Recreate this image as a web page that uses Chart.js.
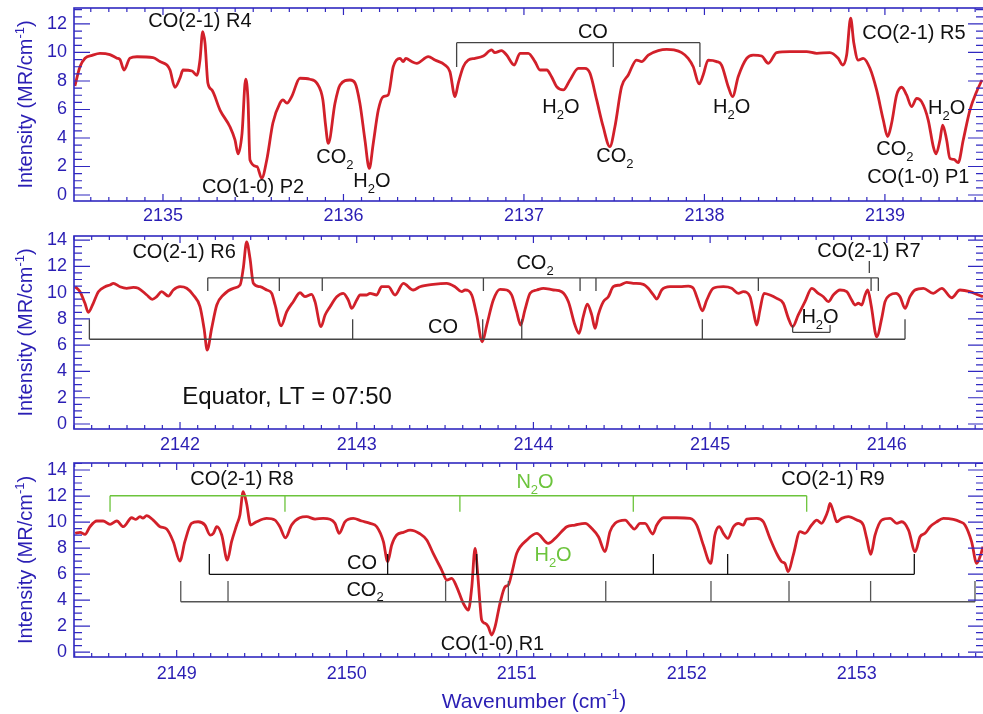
<!DOCTYPE html>
<html>
<head>
<meta charset="utf-8">
<script src="https://cdn.jsdelivr.net/npm/chart.js@4.4.1/dist/chart.umd.min.js"></script>
<style>
  html, body { margin: 0; padding: 0; background: #fff; width: 983px; height: 714px; overflow: hidden; }
  canvas { position: absolute; left: 0; }
</style>
</head>
<body>
<canvas id="panel1" width="990" height="228" style="top:0px"></canvas>
<canvas id="panel2" width="990" height="227" style="top:228px"></canvas>
<canvas id="panel3" width="990" height="259" style="top:455px"></canvas>
<script>
// ---------------- spectrum, 2134.5 - 2139.5 cm-1 ----------------
const wavenumber1 = [2134.512, 2134.540, 2134.568, 2134.607, 2134.651, 2134.706, 2134.745, 2134.762, 2134.784, 2134.817,
  2134.856, 2134.945, 2134.983, 2135.022, 2135.039, 2135.066, 2135.094, 2135.111, 2135.161, 2135.188,
  2135.205, 2135.220, 2135.233, 2135.249, 2135.271, 2135.316, 2135.371, 2135.399, 2135.416, 2135.438,
  2135.458, 2135.471, 2135.482, 2135.521, 2135.547, 2135.575, 2135.609, 2135.648, 2135.665, 2135.687,
  2135.713, 2135.759, 2135.814, 2135.853, 2135.886, 2135.900, 2135.916, 2135.953, 2135.981, 2136.036,
  2136.064, 2136.091, 2136.119, 2136.143, 2136.165, 2136.193, 2136.220, 2136.248, 2136.276, 2136.313,
  2136.331, 2136.346, 2136.378, 2136.406, 2136.470, 2136.507, 2136.562, 2136.590, 2136.618, 2136.636,
  2136.664, 2136.691, 2136.729, 2136.775, 2136.821, 2136.839, 2136.876, 2136.904, 2136.946, 2136.978,
  2137.024, 2137.061, 2137.089, 2137.126, 2137.153, 2137.181, 2137.218, 2137.255, 2137.301, 2137.338,
  2137.366, 2137.403, 2137.439, 2137.476, 2137.504, 2137.541, 2137.578, 2137.624, 2137.652, 2137.689,
  2137.744, 2137.791, 2137.831, 2137.874, 2137.910, 2137.938, 2137.971, 2137.993, 2138.021, 2138.068,
  2138.095, 2138.132, 2138.156, 2138.187, 2138.234, 2138.270, 2138.317, 2138.354, 2138.400, 2138.474,
  2138.566, 2138.622, 2138.695, 2138.741, 2138.766, 2138.788, 2138.810, 2138.828, 2138.852, 2138.880,
  2138.917, 2138.954, 2138.991, 2139.015, 2139.037, 2139.065, 2139.093, 2139.120, 2139.148, 2139.176,
  2139.203, 2139.240, 2139.268, 2139.283, 2139.305, 2139.320, 2139.342, 2139.360, 2139.382, 2139.406,
  2139.434, 2139.471, 2139.508, 2139.538];
const intensity1 = [7.65, 9.0, 9.6, 9.8, 9.94, 9.85, 9.6, 9.5, 8.77, 9.6,
  9.7, 9.64, 9.36, 9.12, 8.77, 7.56, 8.2, 8.77, 8.7, 8.4,
  9.47, 11.46, 10.64, 7.84, 7.37, 5.96, 4.79, 3.86, 2.88, 4.33,
  8.12, 6.67, 2.46, 1.99, 1.17, 2.46, 5.05, 6.44, 6.67, 6.44,
  6.9, 8.19, 8.12, 7.84, 6.67, 5.0, 3.62, 6.44, 7.72, 8.07,
  7.86, 6.44, 3.86, 1.87, 3.62, 5.96, 6.9, 7.02, 9.0, 9.59,
  9.36, 9.59, 9.36, 9.24, 9.71, 9.47, 9.12, 8.65, 6.9, 7.84,
  9.0, 9.47, 9.59, 9.75, 10.18, 9.99, 10.13, 9.82, 9.12, 9.94,
  9.94, 9.36, 8.77, 8.77, 8.3, 7.6, 7.37, 8.07, 8.89, 8.89,
  8.54, 6.67, 4.79, 3.39, 4.79, 7.6, 8.42, 9.47, 9.36, 9.82,
  10.13, 10.22, 10.18, 9.99, 9.59, 9.0, 7.79, 8.42, 9.47, 9.36,
  9.12, 7.6, 6.9, 8.3, 9.59, 9.82, 9.75, 9.24, 9.99, 10.06,
  10.06, 9.94, 9.99, 9.59, 9.12, 9.82, 12.4, 10.64, 9.47, 9.59,
  8.89, 7.37, 5.26, 4.09, 5.03, 7.02, 7.56, 7.02, 6.2, 6.78,
  6.55, 5.26, 3.39, 2.88, 3.86, 4.91, 3.86, 2.57, 2.5, 2.27,
  3.86, 5.96, 7.25, 8.07];

// ---------------- spectrum, 2141.4 - 2146.5 cm-1 ----------------
const wavenumber2 = [2141.406, 2141.434, 2141.462, 2141.481, 2141.509, 2141.538, 2141.576, 2141.604, 2141.623, 2141.660,
  2141.698, 2141.736, 2141.764, 2141.812, 2141.843, 2141.868, 2141.896, 2141.934, 2141.962, 2142.000,
  2142.038, 2142.075, 2142.113, 2142.136, 2142.154, 2142.179, 2142.208, 2142.245, 2142.302, 2142.340,
  2142.358, 2142.377, 2142.396, 2142.415, 2142.453, 2142.491, 2142.519, 2142.538, 2142.572, 2142.604,
  2142.641, 2142.679, 2142.707, 2142.745, 2142.764, 2142.798, 2142.821, 2142.849, 2142.887, 2142.924,
  2142.952, 2142.972, 2143.000, 2143.019, 2143.057, 2143.075, 2143.113, 2143.141, 2143.179, 2143.217,
  2143.264, 2143.320, 2143.358, 2143.433, 2143.509, 2143.556, 2143.594, 2143.613, 2143.651, 2143.679,
  2143.711, 2143.736, 2143.773, 2143.811, 2143.849, 2143.877, 2143.905, 2143.928, 2143.952, 2143.981,
  2144.019, 2144.056, 2144.113, 2144.160, 2144.198, 2144.235, 2144.258, 2144.282, 2144.305, 2144.330,
  2144.349, 2144.367, 2144.396, 2144.424, 2144.452, 2144.490, 2144.528, 2144.565, 2144.622, 2144.650,
  2144.679, 2144.698, 2144.726, 2144.773, 2144.830, 2144.877, 2144.905, 2144.928, 2144.956, 2144.981,
  2145.018, 2145.075, 2145.122, 2145.160, 2145.188, 2145.226, 2145.245, 2145.264, 2145.282, 2145.305,
  2145.339, 2145.377, 2145.414, 2145.443, 2145.467, 2145.499, 2145.537, 2145.575, 2145.612, 2145.641,
  2145.669, 2145.697, 2145.735, 2145.773, 2145.801, 2145.820, 2145.839, 2145.858, 2145.877, 2145.892,
  2145.911, 2145.943, 2145.971, 2145.990, 2146.018, 2146.052, 2146.075, 2146.103, 2146.131, 2146.160,
  2146.207, 2146.263, 2146.311, 2146.367, 2146.414, 2146.471, 2146.518, 2146.544];
const intensity2 = [10.45, 10.07, 9.19, 8.5, 9.19, 10.07, 10.45, 10.58, 10.71, 10.45,
  10.33, 10.4, 10.33, 9.82, 9.49, 9.69, 10.07, 9.74, 10.2, 10.45,
  10.33, 9.82, 8.93, 7.28, 5.63, 7.28, 9.06, 9.82, 10.33, 10.58,
  11.85, 13.87, 12.61, 10.71, 10.45, 10.2, 9.95, 9.06, 7.48, 8.55,
  9.31, 9.99, 9.69, 9.87, 9.31, 7.41, 8.3, 8.93, 9.69, 9.95,
  9.44, 8.8, 9.44, 9.82, 9.82, 9.95, 9.82, 10.45, 10.45, 9.82,
  10.71, 10.2, 10.45, 10.63, 10.71, 10.45, 10.07, 10.2, 9.82, 8.3,
  6.26, 7.53, 9.44, 10.25, 10.2, 9.82, 8.55, 7.53, 8.68, 9.95,
  10.2, 10.33, 10.2, 10.07, 9.31, 7.53, 6.9, 8.17, 9.13, 8.3,
  7.28, 8.3, 9.31, 9.69, 10.45, 10.58, 10.78, 10.71, 10.63, 10.33,
  9.82, 9.51, 10.2, 10.45, 10.45, 10.5, 10.33, 9.56, 8.62, 9.44,
  10.33, 10.45, 10.33, 9.95, 10.07, 9.69, 8.55, 7.53, 8.68, 9.95,
  9.82, 9.56, 9.19, 8.04, 7.41, 8.3, 9.31, 10.33, 9.95, 9.69,
  9.31, 9.82, 10.2, 10.07, 9.44, 9.06, 9.19, 9.06, 9.82, 10.2,
  9.06, 6.64, 8.04, 9.31, 9.82, 9.95, 9.69, 8.8, 9.69, 10.2,
  10.33, 9.95, 10.33, 9.61, 10.2, 10.07, 9.82, 9.69];

// ---------------- spectrum, 2148.4 - 2153.7 cm-1 ----------------
const wavenumber3 = [2148.403, 2148.432, 2148.461, 2148.490, 2148.530, 2148.567, 2148.608, 2148.648, 2148.686, 2148.735,
  2148.760, 2148.784, 2148.801, 2148.823, 2148.862, 2148.902, 2148.941, 2148.980, 2149.019, 2149.048,
  2149.087, 2149.126, 2149.166, 2149.197, 2149.216, 2149.236, 2149.265, 2149.298, 2149.323, 2149.353,
  2149.372, 2149.391, 2149.411, 2149.435, 2149.470, 2149.529, 2149.578, 2149.607, 2149.640, 2149.676,
  2149.724, 2149.764, 2149.814, 2149.862, 2149.902, 2149.931, 2149.956, 2149.990, 2150.039, 2150.088,
  2150.138, 2150.177, 2150.216, 2150.241, 2150.265, 2150.294, 2150.334, 2150.373, 2150.431, 2150.471,
  2150.509, 2150.559, 2150.589, 2150.618, 2150.647, 2150.686, 2150.716, 2150.736, 2150.755, 2150.769,
  2150.784, 2150.794, 2150.814, 2150.833, 2150.853, 2150.873, 2150.902, 2150.932, 2150.951, 2150.971,
  2151.000, 2151.060, 2151.118, 2151.186, 2151.236, 2151.295, 2151.343, 2151.403, 2151.442, 2151.481,
  2151.520, 2151.549, 2151.579, 2151.638, 2151.667, 2151.692, 2151.726, 2151.755, 2151.801, 2151.824,
  2151.863, 2151.941, 2152.020, 2152.059, 2152.098, 2152.141, 2152.166, 2152.192, 2152.216, 2152.242,
  2152.275, 2152.304, 2152.333, 2152.353, 2152.412, 2152.451, 2152.490, 2152.529, 2152.559, 2152.578,
  2152.597, 2152.627, 2152.667, 2152.696, 2152.735, 2152.765, 2152.794, 2152.813, 2152.832, 2152.843,
  2152.863, 2152.883, 2152.912, 2152.951, 2153.001, 2153.039, 2153.059, 2153.083, 2153.108, 2153.147,
  2153.197, 2153.236, 2153.265, 2153.305, 2153.344, 2153.373, 2153.402, 2153.432, 2153.471, 2153.510,
  2153.569, 2153.608, 2153.637, 2153.676, 2153.706, 2153.729, 2153.743];
const intensity3 = [9.13, 9.21, 9.05, 9.64, 10.08, 10.08, 9.82, 10.08, 9.64, 10.33,
  10.2, 10.41, 10.3, 10.49, 10.15, 9.64, 9.46, 8.49, 7.0, 8.49,
  9.9, 10.02, 9.77, 9.0, 9.13, 9.64, 9.0, 7.08, 8.49, 9.77,
  10.54, 12.33, 11.44, 9.77, 10.02, 10.28, 10.15, 9.64, 8.79, 9.77,
  10.33, 10.41, 10.23, 10.28, 10.21, 9.9, 9.13, 10.02, 10.28, 10.08,
  9.9, 9.64, 8.49, 6.95, 8.23, 9.0, 9.21, 9.38, 9.1, 8.62,
  7.59, 6.31, 5.54, 5.67, 5.02, 3.75, 3.23, 5.02, 7.98, 6.31,
  3.75, 2.46, 2.21, 1.95, 1.31, 1.95, 3.75, 5.02, 5.15, 6.05,
  7.59, 8.62, 9.13, 8.36, 8.87, 9.64, 9.77, 9.9, 9.51, 8.87,
  7.72, 9.26, 9.9, 10.15, 9.77, 9.46, 9.9, 9.9, 9.08, 9.77,
  10.33, 10.33, 10.28, 9.77, 8.23, 6.82, 9.0, 9.64, 9.13, 8.74,
  9.64, 9.9, 9.77, 10.23, 10.28, 10.02, 8.74, 7.59, 6.95, 6.82,
  6.18, 7.46, 9.26, 9.13, 9.77, 10.15, 9.9, 10.28, 10.92, 11.44,
  10.79, 10.02, 10.28, 10.41, 10.15, 9.77, 8.74, 7.51, 9.0, 10.15,
  10.28, 9.9, 10.02, 9.38, 7.72, 8.87, 9.13, 9.64, 10.02, 10.28,
  10.2, 10.02, 9.77, 8.49, 6.82, 7.46, 8.1];

// tick labels
const xTicks1 = [2135, 2136, 2137, 2138, 2139];
const xTicks2 = [2142, 2143, 2144, 2145, 2146];
const xTicks3 = [2149, 2150, 2151, 2152, 2153];
const yTicks1 = [0, 2, 4, 6, 8, 10, 12];
const yTicks23 = [0, 2, 4, 6, 8, 10, 12, 14];

// line positions marked by the brackets (cm-1)
const coLines1 = [2136.627, 2137.495, 2137.975];
const co2Lines2 = [2142.157, 2142.562, 2142.805, 2143.717, 2144.264, 2144.354, 2145.273, 2145.911, 2145.952];
const coLines2 = [2141.487, 2142.977, 2143.713, 2143.934, 2144.956, 2146.103];
const h2oLines2 = [2145.467, 2145.679];
const r7Line = [2145.901];
const n2oLines3 = [2148.608, 2149.637, 2150.666, 2151.686, 2152.706];
const coLines3 = [2149.192, 2150.241, 2150.765, 2151.804, 2152.241, 2153.339];
const co2Lines3 = [2149.024, 2149.302, 2150.582, 2150.951, 2151.524, 2152.143, 2152.602, 2153.082, 2153.696];

const FONT = "'Liberation Sans', Arial, Helvetica, sans-serif";
const AXIS_BLUE = '#3028c0';
const TEXT_BLUE = '#2a1eb4';
const CURVE_RED = '#d2202a';
const GREEN = '#6cc43c';
const INK = '#111';

// text with "_2" subscripts and "^{-1}" superscripts, centred on (x, y)
function richText(ctx, str, x, y, size, color) {
  const parts = [];
  let i = 0;
  while (i < str.length) {
    if (str[i] === '_') { parts.push({ t: str[i + 1], k: 'sub' }); i += 2; }
    else if (str[i] === '^') { const j = str.indexOf('}', i); parts.push({ t: str.slice(i + 2, j), k: 'sup' }); i = j + 1; }
    else {
      let j = i;
      while (j < str.length && str[j] !== '_' && str[j] !== '^') j++;
      parts.push({ t: str.slice(i, j), k: 'n' }); i = j;
    }
  }
  const small = Math.round(size * 0.65);
  let total = 0;
  parts.forEach(p => {
    ctx.font = (p.k === 'n' ? size : small) + 'px ' + FONT;
    p.w = ctx.measureText(p.t).width;
    total += p.w;
  });
  const base = y + size * 0.358;
  let cx = x - total / 2;
  ctx.fillStyle = color;
  ctx.textAlign = 'left';
  ctx.textBaseline = 'alphabetic';
  parts.forEach(p => {
    ctx.font = (p.k === 'n' ? size : small) + 'px ' + FONT;
    const dy = p.k === 'sub' ? size * 0.28 : p.k === 'sup' ? -size * 0.42 : 0;
    ctx.fillText(p.t, cx, base + dy);
    cx += p.w;
  });
}

// brackets and labels, placed in data units
const marksPlugin = {
  id: 'marks',
  afterDatasetsDraw(chart, args, opts) {
    const { ctx, scales: { x, y } } = chart;
    ctx.save();
    (opts.brackets || []).forEach(b => {
      const yl = y.getPixelForValue(b.level);
      const yt = y.getPixelForValue(b.tickTo);
      ctx.strokeStyle = b.color;
      ctx.lineWidth = 1.3;
      ctx.beginPath();
      ctx.moveTo(x.getPixelForValue(b.xs[0]), yl);
      ctx.lineTo(x.getPixelForValue(b.xs[b.xs.length - 1]), yl);
      b.xs.forEach(v => {
        const px = x.getPixelForValue(v);
        ctx.moveTo(px, yl);
        ctx.lineTo(px, yt);
      });
      ctx.stroke();
    });
    (opts.labels || []).forEach(l => {
      richText(ctx, l.text, x.getPixelForValue(l.x), y.getPixelForValue(l.y), l.size || 20, l.color || INK);
    });
    ctx.restore();
  }
};

// box with inward ticks on all four sides, plus axis titles
const framePlugin = {
  id: 'frame',
  afterDraw(chart, args, opts) {
    const { ctx, chartArea: a, scales: { x, y } } = chart;
    ctx.save();
    ctx.strokeStyle = AXIS_BLUE;
    ctx.lineWidth = 1.6;
    ctx.strokeRect(a.left, a.top, a.right - a.left, a.bottom - a.top);
    ctx.lineWidth = 1.2;
    ctx.beginPath();
    for (let k = Math.ceil(x.min * 10); k <= Math.floor(x.max * 10); k++) {
      const px = x.getPixelForValue(k / 10);
      const len = k % 10 === 0 ? 7 : 4;
      ctx.moveTo(px, a.bottom); ctx.lineTo(px, a.bottom - len);
      ctx.moveTo(px, a.top); ctx.lineTo(px, a.top + len);
    }
    for (let k = Math.ceil(y.min * 2); k <= Math.floor(y.max * 2); k++) {
      const py = y.getPixelForValue(k / 2);
      const len = k % 4 === 0 ? 16 : 8;
      ctx.moveTo(a.left, py); ctx.lineTo(a.left + len, py);
      ctx.moveTo(a.right, py); ctx.lineTo(a.right - len, py);
    }
    ctx.stroke();

    ctx.save();
    ctx.translate(25, (a.top + a.bottom) / 2);
    ctx.rotate(-Math.PI / 2);
    richText(ctx, 'Intensity (MR/cm^{-1})', 0, 0, 20, TEXT_BLUE);
    ctx.restore();

    if (opts.xTitle) {
      richText(ctx, opts.xTitle, (a.left + a.right) / 2 + 5, a.bottom + 43, 21, TEXT_BLUE);
    }
    ctx.restore();
  }
};

function makePanel(id, wn, inten, xMin, xMax, yMin, yMax, xTicks, yTicks, axisH, labelPad, marks, xTitle) {
  const points = wn.map((w, i) => ({ x: w, y: inten[i] }));
  return new Chart(document.getElementById(id), {
    type: 'line',
    data: {
      datasets: [{
        data: points,
        borderColor: CURVE_RED,
        borderWidth: 2.8,
        pointRadius: 0,
        cubicInterpolationMode: 'monotone',
        fill: false
      }]
    },
    options: {
      responsive: false,
      animation: false,
      devicePixelRatio: 1,
      layout: { padding: { top: 8, left: 0, right: 6, bottom: 0 } },
      plugins: {
        legend: { display: false },
        tooltip: { enabled: false },
        marks: marks,
        frame: { xTitle: xTitle }
      },
      scales: {
        x: {
          type: 'linear',
          min: xMin,
          max: xMax,
          afterBuildTicks: s => { s.ticks = xTicks.map(v => ({ value: v })); },
          afterFit: s => { s.height = axisH; s.paddingLeft = 0; s.paddingRight = 0; },
          grid: { display: false, drawTicks: false },
          border: { display: false },
          ticks: {
            color: TEXT_BLUE,
            font: { family: FONT, size: 18 },
            padding: labelPad,
            maxRotation: 0,
            autoSkip: false,
            callback: v => String(v)
          }
        },
        y: {
          type: 'linear',
          min: yMin,
          max: yMax,
          afterBuildTicks: s => { s.ticks = yTicks.map(v => ({ value: v })); },
          afterFit: s => { s.width = 74; s.paddingTop = 0; s.paddingBottom = 0; },
          grid: { display: false, drawTicks: false },
          border: { display: false },
          ticks: {
            color: TEXT_BLUE,
            font: { family: FONT, size: 18 },
            padding: 7,
            callback: v => String(v)
          }
        }
      }
    },
    plugins: [marksPlugin, framePlugin]
  });
}

makePanel('panel1', wavenumber1, intensity1, 2134.507, 2139.549, -0.42, 13.12, xTicks1, yTicks1, 27, 4, {
  brackets: [
    { xs: coLines1, level: 10.69, tickTo: 8.98, color: '#444' }
  ],
  labels: [
    { text: 'CO(2-1) R4', x: 2135.205, y: 12.28 },
    { text: 'CO(1-0) P2', x: 2135.499, y: 0.63 },
    { text: 'CO_2', x: 2135.953, y: 2.74 },
    { text: 'H_2O', x: 2136.158, y: 1.05 },
    { text: 'CO', x: 2137.382, y: 11.5 },
    { text: 'H_2O', x: 2137.205, y: 6.25 },
    { text: 'CO_2', x: 2137.504, y: 2.81 },
    { text: 'H_2O', x: 2138.151, y: 6.25 },
    { text: 'CO(2-1) R5', x: 2139.161, y: 11.44 },
    { text: 'H_2O', x: 2139.342, y: 6.18 },
    { text: 'CO_2', x: 2139.055, y: 3.30 },
    { text: 'CO(1-0) P1', x: 2139.185, y: 1.33 }
  ]
});

makePanel('panel2', wavenumber2, intensity2, 2141.400, 2146.550, -0.38, 14.31, xTicks2, yTicks23, 26, 5, {
  brackets: [
    { xs: co2Lines2, level: 11.13, tickTo: 10.12, color: '#444' },
    { xs: r7Line, level: 11.49, tickTo: 12.4, color: '#444' },
    { xs: coLines2, level: 6.45, tickTo: 7.97, color: '#444' },
    { xs: h2oLines2, level: 6.98, tickTo: 7.53, color: '#444' }
  ],
  labels: [
    { text: 'CO(2-1) R6', x: 2142.023, y: 13.17 },
    { text: 'CO_2', x: 2144.009, y: 12.33 },
    { text: 'CO', x: 2143.488, y: 7.46 },
    { text: 'H_2O', x: 2145.622, y: 8.24 },
    { text: 'CO(2-1) R7', x: 2145.899, y: 13.24 },
    { text: 'Equator, LT = 07:50', x: 2142.606, y: 2.21, size: 24 }
  ]
});

makePanel('panel3', wavenumber3, intensity3, 2148.396, 2153.749, -0.38, 14.54, xTicks3, yTicks23, 57, 6, {
  brackets: [
    { xs: n2oLines3, level: 12.02, tickTo: 10.8, color: GREEN },
    { xs: coLines3, level: 5.98, tickTo: 7.54, color: '#111' },
    { xs: co2Lines3, level: 3.87, tickTo: 5.46, color: '#555' }
  ],
  labels: [
    { text: 'CO(2-1) R8', x: 2149.384, y: 13.38 },
    { text: 'CO(2-1) R9', x: 2152.861, y: 13.38 },
    { text: 'N_2O', x: 2151.108, y: 13.15, color: GREEN },
    { text: 'H_2O', x: 2151.214, y: 7.54, color: GREEN },
    { text: 'CO', x: 2150.090, y: 6.95 },
    { text: 'CO_2', x: 2150.108, y: 4.9 },
    { text: 'CO(1-0) R1', x: 2150.858, y: 0.69 }
  ]
}, 'Wavenumber (cm^{-1})');
</script>
</body>
</html>
